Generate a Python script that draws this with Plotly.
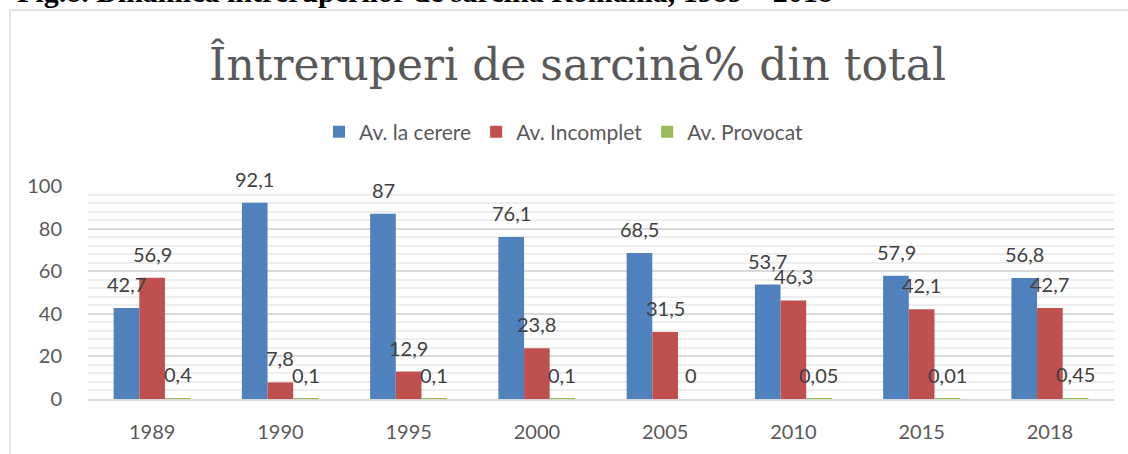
import plotly.graph_objects as go

years = ["1989", "1990", "1995", "2000", "2005", "2010", "2015", "2018"]
la_cerere = [42.7, 92.1, 87, 76.1, 68.5, 53.7, 57.9, 56.8]
incomplet = [56.9, 7.8, 12.9, 23.8, 31.5, 46.3, 42.1, 42.7]
provocat = [0.4, 0.1, 0.1, 0.1, 0, 0.05, 0.01, 0.45]
label_cerere = ["42,7", "92,1", "87", "76,1", "68,5", "53,7", "57,9", "56,8"]
label_incomplet = ["56,9", "7,8", "12,9", "23,8", "31,5", "46,3", "42,1", "42,7"]
label_provocat = ["0,4", "0,1", "0,1", "0,1", "0", "0,05", "0,01", "0,45"]
series_names = ["Av. la cerere", "Av. Incomplet", "Av. Provocat"]
colors = ["#4f81bd", "#c0504d", "#9bbb59"]

L, R, T, B = 88, 14, 186, 55
W, H = 1128, 454
pw, ph = W - L - R, H - T - B
FONT = "Lato, Open Sans, sans-serif"

fig = go.Figure()
series = [la_cerere, incomplet, provocat]
labels = [label_cerere, label_incomplet, label_provocat]
for name, vals, col in zip(series_names, series, colors):
    fig.add_trace(go.Bar(x=years, y=vals, name=name, marker=dict(color=col, line=dict(width=0))))

shifts = [-25.6, 0, 25.6]
for vals, labs, xs in zip(series, labels, shifts):
    for i, (v, lab) in enumerate(zip(vals, labs)):
        fig.add_annotation(x=i, y=v, text=lab, showarrow=False, xref="x", yref="y",
                           xshift=xs, yshift=24, yanchor="middle", xanchor="center",
                           font=dict(family=FONT, size=20, color="#404040"))

# title
fig.add_annotation(x=(577 - L) / pw, y=(H - 64 - B) / ph, xref="paper", yref="paper",
                   xanchor="center", yanchor="middle", showarrow=False,
                   text="Întreruperi de sarcină% din total",
                   font=dict(family="DejaVu Serif, serif", size=44, color="#595959"))

# caption (cut off at top)
fig.add_annotation(x=(15 - L) / pw, y=(H - 4 - B) / ph, xref="paper", yref="paper",
                   xanchor="left", yanchor="bottom", showarrow=False, yshift=-6,
                   text="<b>Fig.8. Dinamica întreruperilor de sarcină România, 1989 – 2018</b>",
                   font=dict(family="Liberation Serif, serif", size=30, color="#000000"))

# chart border
fig.add_shape(type="rect", xref="paper", yref="paper",
              x0=(10 - L) / pw, x1=(W + 5 - L) / pw,
              y0=(-(H + 5 - (H - B))) / ph, y1=(H - 10 - B) / ph,
              line=dict(color="#d9d9d9", width=1.5), fillcolor="rgba(0,0,0,0)", layer="below")

fig.update_layout(
    width=W, height=H,
    margin=dict(l=L, r=R, t=T, b=B, pad=0, autoexpand=False),
    paper_bgcolor="white", plot_bgcolor="white",
    barmode="group", bargap=0.4, bargroupgap=0,
    showlegend=True,
    legend=dict(orientation="h", x=(564 - L) / pw, xanchor="center", y=(H - 132 - B) / ph, yanchor="middle",
                font=dict(family=FONT, size=21, color="#595959"),
                itemwidth=30, traceorder="normal"),
    font=dict(family=FONT, size=20, color="#595959"),
)
fig.update_yaxes(range=[0, 100], tick0=0, dtick=20, showgrid=True, gridcolor="#d9d9d9", gridwidth=1.5,
                 minor=dict(dtick=4, showgrid=True, gridcolor="#eeeeee", gridwidth=1.5),
                 zeroline=False, showline=False, ticks="", ticklabelstandoff=25,
                 tickfont=dict(family=FONT, size=20, color="#595959"))
fig.update_xaxes(type="category", range=[-0.5, len(years) - 0.5], showline=True, linecolor="#d9d9d9",
                 linewidth=1.5, ticks="", ticklabelstandoff=14,
                 tickfont=dict(family=FONT, size=20, color="#595959"))

fig.write_html("out.html", config={"displayModeBar": False},
               post_script="document.body.style.margin='0';")
